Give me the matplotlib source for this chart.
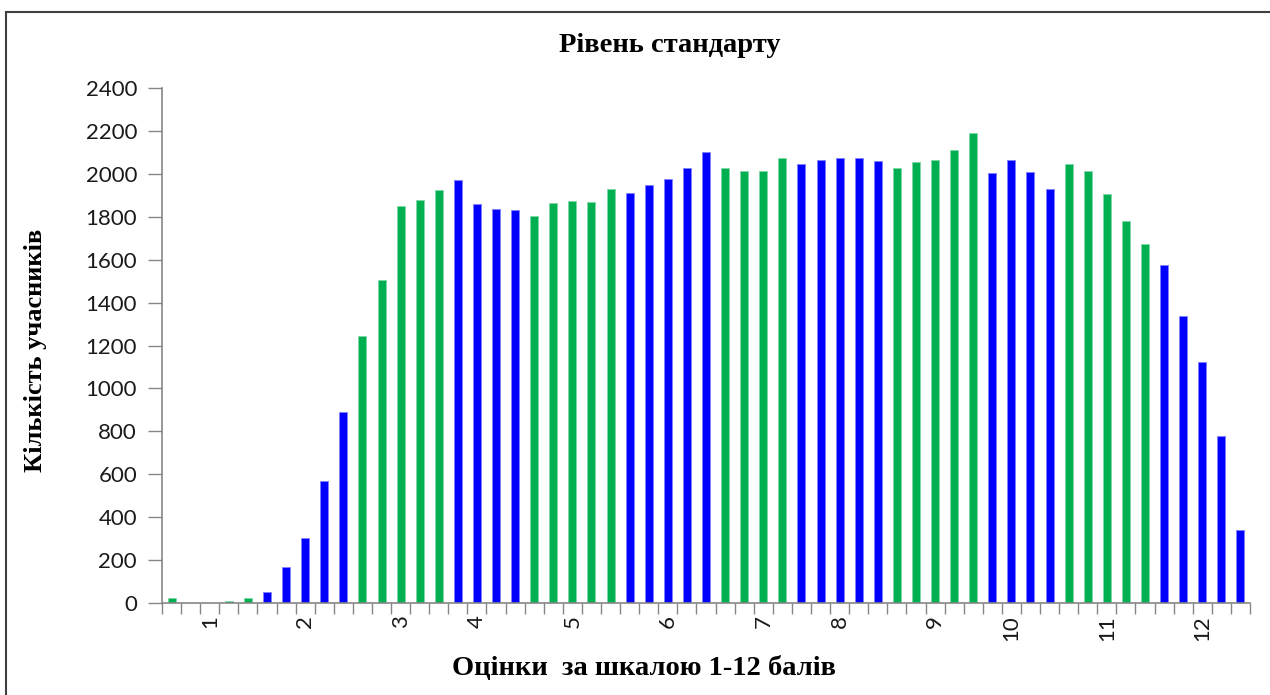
"""Bar chart: distribution of participants by score (standard level)."""
import matplotlib
matplotlib.use("Agg")
import matplotlib.pyplot as plt
from matplotlib.patches import Rectangle
import numpy as np

# Кількість учасників для кожного тестового бала (57 категорій)
counts = [25, 0, 0, 7, 25, 52, 170, 302, 570, 890,
          1242, 1507, 1848, 1880, 1923, 1972, 1858, 1837, 1830, 1803,
          1863, 1873, 1868, 1928, 1912, 1950, 1978, 2027, 2102, 2027,
          2015, 2015, 2075, 2048, 2063, 2075, 2075, 2058, 2027, 2053,
          2063, 2113, 2188, 2005, 2063, 2008, 1928, 2048, 2015, 1907,
          1782, 1673, 1577, 1338, 1122, 780, 342]

# group of each bar: 'g' = green, 'b' = blue (alternating grade bands)
groups = (['g'] * 5 + ['b'] * 5 + ['g'] * 5 + ['b'] * 4 + ['g'] * 5 +
          ['b'] * 5 + ['g'] * 4 + ['b'] * 5 + ['g'] * 5 + ['b'] * 4 +
          ['g'] * 5 + ['b'] * 5)

# category labels (grade on the 1-12 scale shown under a few bars)
x_labels = ['', '', '1', '', '', '', '', '2', '', '',
            '', '', '3', '', '', '', '4', '', '', '',
            '', '5', '', '', '', '', '6', '', '', '',
            '', '7', '', '', '', '8', '', '', '', '',
            '9', '', '', '', '10', '', '', '', '', '11',
            '', '', '', '', '12', '', '']

y_ticks = [0, 200, 400, 600, 800, 1000, 1200, 1400, 1600, 1800, 2000, 2200, 2400]

COLORS = {'g': '#00B050', 'b': '#0000FF'}
EDGES = {'g': '#7FD8A7', 'b': '#8080FF'}

W, H = 1270, 695
fig = plt.figure(figsize=(W / 100, H / 100), dpi=100)

ax = fig.add_axes([162 / W, 92 / H, 1088 / W, 515 / H])
x = np.arange(len(counts))
ax.bar(x, counts, width=0.42,
       color=[COLORS[g] for g in groups],
       edgecolor=[EDGES[g] for g in groups], linewidth=0.6)

ax.set_xlim(-0.5, len(counts) - 0.5)
ax.set_ylim(0, 2400)
ax.set_yticks(y_ticks)
ax.set_yticklabels([str(v) for v in y_ticks])

# tick marks between categories, labels centred on categories
ax.set_xticks(np.arange(len(counts) + 1) - 0.5)
ax.set_xticklabels([])
ax.set_xticks(x, minor=True)
ax.set_xticklabels(x_labels, minor=True, rotation=90)
ax.tick_params(axis='x', which='major', length=8, width=1, color='#868686',
               direction='out')
ax.tick_params(axis='x', which='minor', length=0, pad=9,
               labelsize=16, labelcolor='#1a1a1a')
ax.tick_params(axis='y', length=10, width=1, color='#868686', pad=8,
               labelsize=16, labelcolor='#1a1a1a')
for lab in ax.get_xticklabels(minor=True) + ax.get_yticklabels():
    lab.set_fontfamily('Lato')

for side in ('top', 'right'):
    ax.spines[side].set_visible(False)
for side in ('left', 'bottom'):
    ax.spines[side].set_color('#868686')
    ax.spines[side].set_linewidth(1.2)

serif = 'Liberation Serif'
fig.text(670 / W, 1 - 46 / H, 'Рівень стандарту', ha='center', va='center',
         fontsize=20.5, fontweight='bold', family=serif)
fig.text(644 / W, 1 - 668 / H, 'Оцінки  за шкалою 1-12 балів', ha='center',
         va='center', fontsize=20.5, fontweight='bold', family=serif)
fig.text(36 / W, 1 - 350 / H, 'Кількість учасників', ha='center',
         va='center', rotation=90, fontsize=19, fontweight='bold', family=serif)

# chart-area frame (runs off the right and bottom edges)
fig.patches.append(Rectangle((6 / W, -0.1), 1.2, 1.1 - 12 / H,
                             transform=fig.transFigure, fill=False,
                             edgecolor='#404040', linewidth=1.5))

fig.savefig('out.png', dpi=100)
plt.close(fig)
